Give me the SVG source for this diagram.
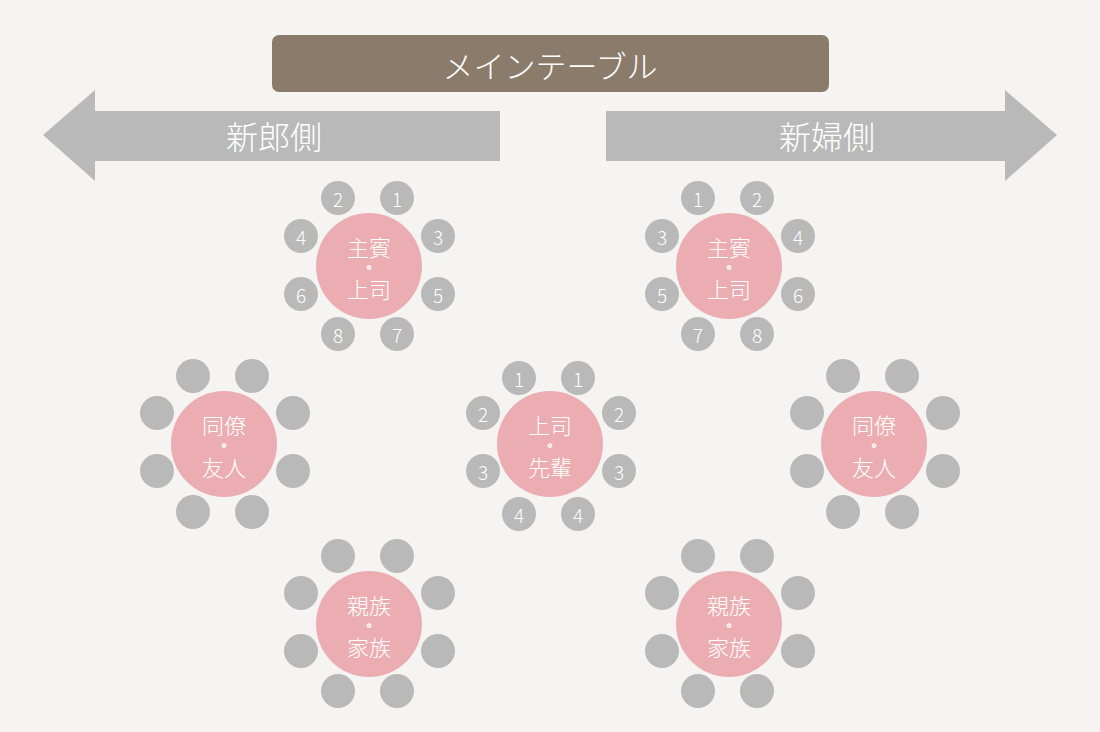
<svg xmlns="http://www.w3.org/2000/svg" width="1100" height="732" viewBox="0 0 1100 732">
<style>
.bg{fill:#f5f4f2}
.seat{fill:#b9b9b9}
.tbl{fill:#ebadb1}
.arrow{fill:#b9b9b9}
.main{fill:#8b7b6b}
text{font-family:"Noto Sans CJK JP","Noto Sans",sans-serif;font-weight:300;fill:#ffffff;text-anchor:middle;dominant-baseline:central}
.big{font-size:31px}
.side{font-size:32px}
.lbl{font-size:22px}
.dot{font-size:6px;stroke:#ffffff;stroke-width:3.4;stroke-linejoin:round}
.num{font-size:19px}
</style>
<defs>
<circle id="s" r="17" class="seat"/>
</defs>
<rect class="bg" x="0" y="0" width="1100" height="732"/>
<g id="main-table">
<rect class="main" x="272" y="35" width="557" height="57" rx="7"/>
<text class="big" x="550" y="64">メインテーブル</text>
</g>
<g id="groom-side">
<polygon class="arrow" points="43,135 95,90 95,111 500,111 500,161 95,161 95,181"/>
<text class="side" x="274" y="135">新郎側</text>
</g>
<g id="bride-side">
<polygon class="arrow" points="1057,135 1005,90 1005,111 606,111 606,161 1005,161 1005,181"/>
<text class="side" x="827" y="135">新婦側</text>
</g>
<g id="connectors"></g>
<g id="table-groom-guest">
<use href="#s" x="338" y="198"/><text class="num" x="338" y="198">2</text>
<use href="#s" x="397" y="198"/><text class="num" x="397" y="198">1</text>
<use href="#s" x="301" y="236"/><text class="num" x="301" y="236">4</text>
<use href="#s" x="438" y="236"/><text class="num" x="438" y="236">3</text>
<use href="#s" x="301" y="294"/><text class="num" x="301" y="294">6</text>
<use href="#s" x="438" y="294"/><text class="num" x="438" y="294">5</text>
<use href="#s" x="338" y="334"/><text class="num" x="338" y="334">8</text>
<use href="#s" x="397" y="334"/><text class="num" x="397" y="334">7</text>
<circle class="tbl" cx="369" cy="266" r="53"/>
<text class="lbl" x="369" y="246">主賓</text>
<text class="dot" x="369" y="267">・</text>
<text class="lbl" x="369" y="288">上司</text>
</g>
<g id="table-bride-guest">
<use href="#s" x="698" y="198"/><text class="num" x="698" y="198">1</text>
<use href="#s" x="757" y="198"/><text class="num" x="757" y="198">2</text>
<use href="#s" x="662" y="236"/><text class="num" x="662" y="236">3</text>
<use href="#s" x="798" y="236"/><text class="num" x="798" y="236">4</text>
<use href="#s" x="662" y="294"/><text class="num" x="662" y="294">5</text>
<use href="#s" x="798" y="294"/><text class="num" x="798" y="294">6</text>
<use href="#s" x="698" y="334"/><text class="num" x="698" y="334">7</text>
<use href="#s" x="757" y="334"/><text class="num" x="757" y="334">8</text>
<circle class="tbl" cx="729" cy="266" r="53"/>
<text class="lbl" x="729" y="246">主賓</text>
<text class="dot" x="729" y="267">・</text>
<text class="lbl" x="729" y="288">上司</text>
</g>
<g id="table-center">
<use href="#s" x="519" y="378"/><text class="num" x="519" y="378">1</text>
<use href="#s" x="578" y="378"/><text class="num" x="578" y="378">1</text>
<use href="#s" x="483" y="413"/><text class="num" x="483" y="413">2</text>
<use href="#s" x="619" y="413"/><text class="num" x="619" y="413">2</text>
<use href="#s" x="483" y="471"/><text class="num" x="483" y="471">3</text>
<use href="#s" x="619" y="471"/><text class="num" x="619" y="471">3</text>
<use href="#s" x="519" y="514"/><text class="num" x="519" y="514">4</text>
<use href="#s" x="578" y="514"/><text class="num" x="578" y="514">4</text>
<circle class="tbl" cx="550" cy="444" r="53"/>
<text class="lbl" x="550" y="424">上司</text>
<text class="dot" x="550" y="445">・</text>
<text class="lbl" x="550" y="466">先輩</text>
</g>
<g id="table-groom-friends">
<use href="#s" x="193" y="376"/><use href="#s" x="252" y="376"/>
<use href="#s" x="157" y="413"/><use href="#s" x="293" y="413"/>
<use href="#s" x="157" y="471"/><use href="#s" x="293" y="471"/>
<use href="#s" x="193" y="512"/><use href="#s" x="252" y="512"/>
<circle class="tbl" cx="224" cy="444" r="53"/>
<text class="lbl" x="224" y="424">同僚</text>
<text class="dot" x="224" y="445">・</text>
<text class="lbl" x="224" y="466">友人</text>
</g>
<g id="table-bride-friends">
<use href="#s" x="843" y="376"/><use href="#s" x="902" y="376"/>
<use href="#s" x="807" y="413"/><use href="#s" x="943" y="413"/>
<use href="#s" x="807" y="471"/><use href="#s" x="943" y="471"/>
<use href="#s" x="843" y="512"/><use href="#s" x="902" y="512"/>
<circle class="tbl" cx="874" cy="444" r="53"/>
<text class="lbl" x="874" y="424">同僚</text>
<text class="dot" x="874" y="445">・</text>
<text class="lbl" x="874" y="466">友人</text>
</g>
<g id="table-groom-family">
<use href="#s" x="338" y="556"/><use href="#s" x="397" y="556"/>
<use href="#s" x="301" y="593"/><use href="#s" x="438" y="593"/>
<use href="#s" x="301" y="651"/><use href="#s" x="438" y="651"/>
<use href="#s" x="338" y="691"/><use href="#s" x="397" y="691"/>
<circle class="tbl" cx="369" cy="624" r="53"/>
<text class="lbl" x="369" y="604">親族</text>
<text class="dot" x="369" y="625">・</text>
<text class="lbl" x="369" y="646">家族</text>
</g>
<g id="table-bride-family">
<use href="#s" x="698" y="556"/><use href="#s" x="757" y="556"/>
<use href="#s" x="662" y="593"/><use href="#s" x="798" y="593"/>
<use href="#s" x="662" y="651"/><use href="#s" x="798" y="651"/>
<use href="#s" x="698" y="691"/><use href="#s" x="757" y="691"/>
<circle class="tbl" cx="729" cy="624" r="53"/>
<text class="lbl" x="729" y="604">親族</text>
<text class="dot" x="729" y="625">・</text>
<text class="lbl" x="729" y="646">家族</text>
</g>
</svg>
